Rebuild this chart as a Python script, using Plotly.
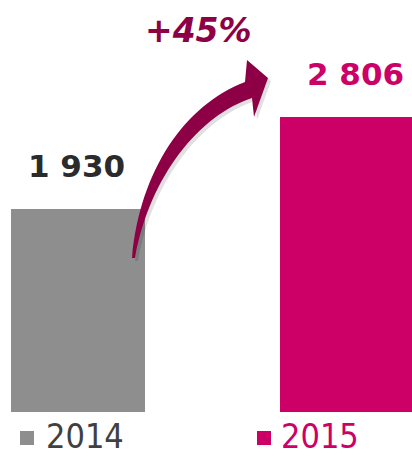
import plotly.graph_objects as go

categories = ["2014", "2015"]
values = [1930, 2806]
value_labels = ["1 930", "2 806"]
growth_label = "+45%"
bar_colors = ["#8E8E8E", "#CC0066"]
label_colors = ["#2B2B2B", "#CC0066"]
legend_colors = ["#404040", "#CC0066"]
arrow_color = "#8E0046"

W, H = 412, 459


def px(x, y):
    """pixel -> paper coordinates (decoration only)"""
    return x / W, 1 - y / H


def path_from_pixels(cmds):
    out = []
    for c in cmds:
        if isinstance(c, str):
            out.append(c)
        else:
            X, Y = px(*c)
            out.append(f"{X:.5f},{Y:.5f}")
    return " ".join(out)


arrow_pts = ["M", (132, 258), "C", (140, 170), (185, 105), (245, 82),
             "L", (247, 60), "L", (268, 78), "L", (254, 117), "L", (252, 98),
             "C", (200, 115), (150, 175), (135, 258), "Z"]
shadow_pts = []
for c in arrow_pts:
    shadow_pts.append(c if isinstance(c, str) else (c[0] + 3, c[1] + 3))

fig = go.Figure()
fig.add_trace(go.Bar(
    x=categories, y=values, width=0.498,
    marker=dict(color=bar_colors, line=dict(width=0)),
    showlegend=False, hoverinfo="skip",
))

annotations = []
for i, (cat, v, lab) in enumerate(zip(categories, values, value_labels)):
    annotations.append(dict(
        x=i, y=v, xref="x", yref="y", text=f"<b>{lab}</b>",
        showarrow=False, yanchor="bottom", xanchor="center",
        yshift=23, xshift=(-2 if i == 0 else 8),
        font=dict(family="DejaVu Sans", size=31, color=label_colors[i]),
    ))

gx, gy = px(198, 52)
annotations.append(dict(
    x=gx, y=gy, xref="paper", yref="paper", text=f"<b><i>{growth_label}</i></b>",
    showarrow=False, xanchor="center", yanchor="bottom",
    font=dict(family="DejaVu Sans", size=33, color=arrow_color),
))

legend_text_x = [44, 279]
legend_sq_x = [20, 257]
shapes = []
for i, cat in enumerate(categories):
    lx, ly = px(legend_text_x[i], 458)
    annotations.append(dict(
        x=lx, y=ly, xref="paper", yref="paper", text=cat,
        showarrow=False, xanchor="left", yanchor="bottom",
        font=dict(family="DejaVu Sans Condensed", size=34, color=legend_colors[i]),
    ))
    x0, y0 = px(legend_sq_x[i], 431)
    x1, y1 = px(legend_sq_x[i] + 14, 445)
    shapes.append(dict(type="rect", xref="paper", yref="paper",
                       x0=x0, y0=y1, x1=x1, y1=y0,
                       fillcolor=bar_colors[i], line=dict(width=0)))

shapes.append(dict(type="path", xref="paper", yref="paper",
                   path=path_from_pixels(shadow_pts),
                   fillcolor="rgba(0,0,0,0.12)", line=dict(width=0)))
shapes.append(dict(type="path", xref="paper", yref="paper",
                   path=path_from_pixels(arrow_pts),
                   fillcolor=arrow_color, line=dict(width=0)))

R = 412 / 0.1053
fig.update_layout(
    width=W, height=H,
    margin=dict(l=0, r=0, t=0, b=0),
    paper_bgcolor="white", plot_bgcolor="white",
    xaxis=dict(type="category", range=[-0.29, 1.2416], visible=False,
               domain=[0, 1]),
    yaxis=dict(range=[0, R], visible=False, domain=[47 / H, 1]),
    annotations=annotations,
    shapes=shapes,
    bargap=0,
)

fig.write_html("out.html")
